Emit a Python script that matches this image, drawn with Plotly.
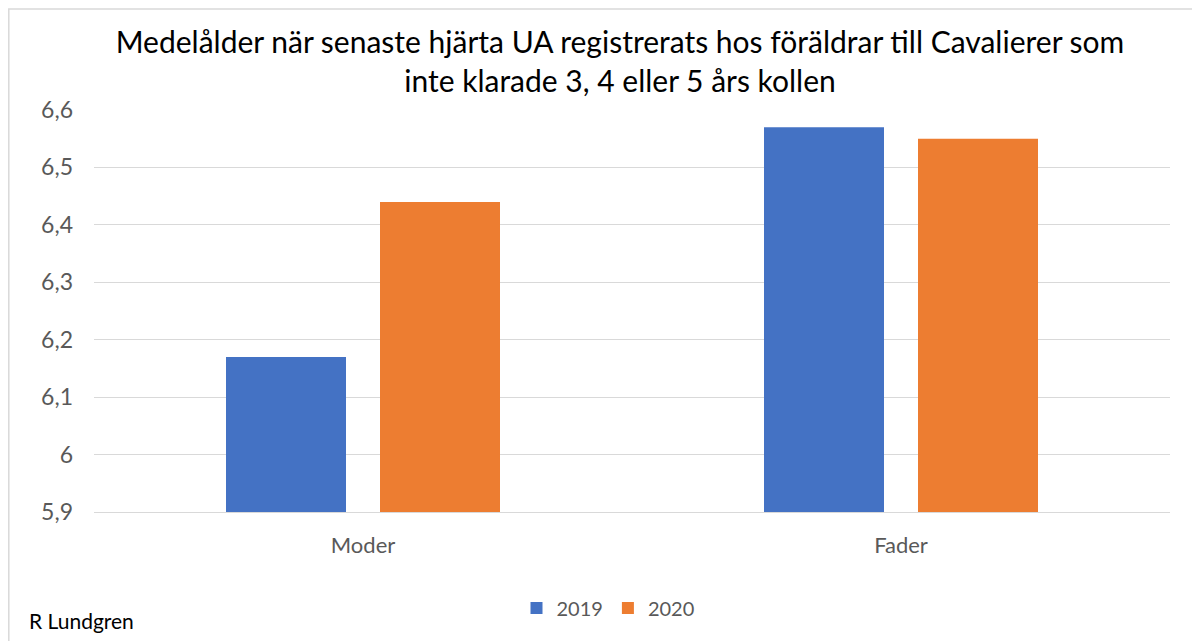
import plotly.graph_objects as go

categories = ["Moder", "Fader"]
series_names = ["2019", "2020"]
values_2019 = [6.17, 6.57]
values_2020 = [6.44, 6.55]
tick_vals = [5.9, 6.0, 6.1, 6.2, 6.3, 6.4, 6.5, 6.6]
tick_text = ["5,9", "6", "6,1", "6,2", "6,3", "6,4", "6,5", "6,6"]
colors = ["#4472C4", "#ED7D31"]

FONT = "Lato"

fig = go.Figure()
for name, vals, col in zip(series_names, [values_2019, values_2020], colors):
    fig.add_trace(go.Bar(x=categories, y=vals, name=name, marker_color=col,
                         marker_line_width=0))

# page body has 8px margin; compensate
OX, OY = 8, 8
W, H = 1200 - OX, 641 - OY
# target plot area in screen px: x 94..1170, y 110..512
L, R, T, B = 94 - OX, 1200 - 1170, 110 - OY, 641 - 512
pw, ph = W - L - R, H - T - B

def px_x(p):
    return (p - OX - L) / pw

def px_y(p):
    return (H - B - (p - OY)) / ph

def cont_x(p):
    return (p - OX) / W

def cont_y(p):
    return 1 - (p - OY) / H

fig.update_layout(
    width=W, height=H,
    margin=dict(l=L, r=R, t=T, b=B),
    paper_bgcolor="white", plot_bgcolor="white",
    font=dict(family=FONT, color="#595959", size=18),
    title=dict(text="Medelålder när senaste hjärta UA registrerats hos föräldrar till Cavalierer som<br>inte klarade 3, 4 eller 5 års kollen",
               xref="container", x=cont_x(620), xanchor="center",
               yref="container", y=cont_y(53), yanchor="middle",
               font=dict(family=FONT, size=30, color="#000000")),
    barmode="group", bargap=0.4275, bargroupgap=0.2208,
    xaxis=dict(showgrid=False, showline=True, linecolor="#D9D9D9", linewidth=1,
               ticks="", ticklabelstandoff=14, tickfont=dict(size=22, color="#595959")),
    yaxis=dict(range=[5.9, 6.6], tickvals=tick_vals, ticktext=tick_text,
               showgrid=True, gridcolor="#D9D9D9", gridwidth=1, zeroline=False,
               showline=False, ticks="", ticklabelstandoff=20,
               tickfont=dict(size=23, color="#595959")),
    legend=dict(orientation="h", x=px_x(608), xanchor="center", y=px_y(608), yanchor="middle",
                font=dict(size=20, color="#595959"), itemwidth=30,
                traceorder="normal"),
    showlegend=True,
    shapes=[dict(type="rect", xref="paper", yref="paper",
                 x0=px_x(8.8), x1=px_x(1210), y0=px_y(650), y1=px_y(9),
                 line=dict(color="#D9D9D9", width=1.5), layer="below")],
    annotations=[dict(text="R Lundgren", xref="paper", yref="paper",
                      x=px_x(27), y=px_y(620), xanchor="left", yanchor="middle",
                      showarrow=False, font=dict(family=FONT, size=21, color="#000000"))],
)

fig.write_html("out.html")
